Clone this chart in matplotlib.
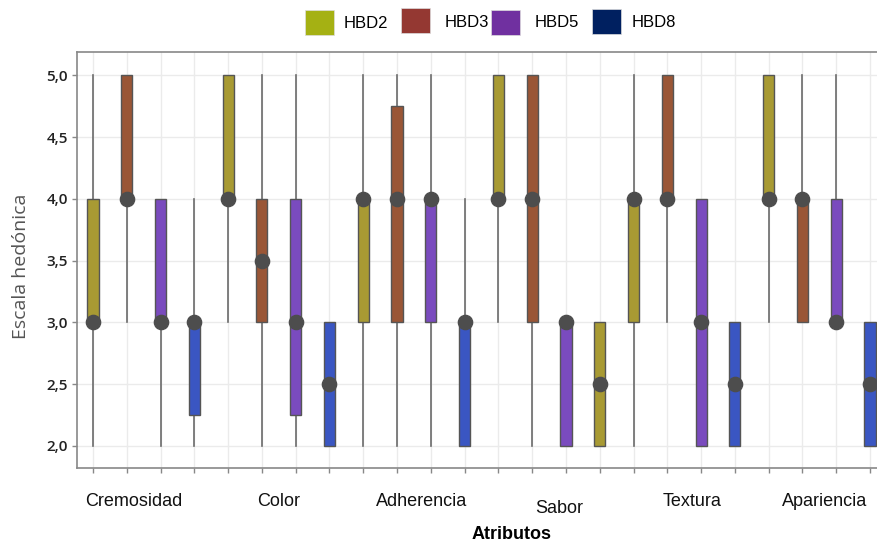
import matplotlib
matplotlib.use("Agg")
import matplotlib.pyplot as plt
from matplotlib.patches import Rectangle

# one entry per box, left to right (6 attributes x 4 formulations)
box_whislo = [2.0, 3.0, 2.0, 2.0,  3.0, 2.0, 2.0, 2.0,  2.0, 2.0, 2.0, 2.0,
              3.0, 2.0, 2.0, 2.0,  2.0, 3.0, 2.0, 2.0,  3.0, 3.0, 3.0, 2.0]
box_q1     = [3.0, 4.0, 3.0, 2.25, 4.0, 3.0, 2.25, 2.0, 3.0, 3.0, 3.0, 2.0,
              4.0, 3.0, 2.0, 2.0,  3.0, 4.0, 2.0, 2.0,  4.0, 3.0, 3.0, 2.0]
box_med    = [3.0, 4.0, 3.0, 3.0,  4.0, 3.5, 3.0, 2.5,  4.0, 4.0, 4.0, 3.0,
              4.0, 4.0, 3.0, 2.5,  4.0, 4.0, 3.0, 2.5,  4.0, 4.0, 3.0, 2.5]
box_q3     = [4.0, 5.0, 4.0, 3.0,  5.0, 4.0, 4.0, 3.0,  4.0, 4.75, 4.0, 3.0,
              5.0, 5.0, 3.0, 3.0,  4.0, 5.0, 4.0, 3.0,  5.0, 4.0, 4.0, 3.0]
box_whishi = [5.0, 5.0, 4.0, 4.0,  5.0, 5.0, 5.0, 3.0,  5.0, 5.0, 5.0, 4.0,
              5.0, 5.0, 3.0, 3.0,  5.0, 5.0, 4.0, 3.0,  5.0, 5.0, 5.0, 3.0]
box_color  = ["#A89A33", "#9A5636", "#7A4BBE", "#3A56C2",
              "#A89A33", "#9A5636", "#7A4BBE", "#3A56C2",
              "#A89A33", "#9A5636", "#7A4BBE", "#3A56C2",
              "#A89A33", "#9A5636", "#7A4BBE", "#A89A33",
              "#A89A33", "#9A5636", "#7A4BBE", "#3A56C2",
              "#A89A33", "#9A5636", "#7A4BBE", "#3A56C2"]

atributos = ["Cremosidad", "Color", "Adherencia", "Sabor", "Textura", "Apariencia"]
label_x = [1.20, 5.48, 9.72, 13.80, 17.73, 21.65]
label_y = [-0.091, -0.091, -0.091, -0.108, -0.091, -0.091]

series = ["HBD2", "HBD3", "HBD5", "HBD8"]
series_color = ["#A5B113", "#943832", "#7030A0", "#002060"]

y_ticks = [2.0, 2.5, 3.0, 3.5, 4.0, 4.5, 5.0]
y_ticklabels = ["2,0", "2,5", "3,0", "3,5", "4,0", "4,5", "5,0"]

fig = plt.figure(figsize=(8.78, 5.42), dpi=100)
ax = fig.add_axes([77 / 878, 1 - 468 / 542, 1 - 77 / 878, (468 - 52) / 542])

positions = list(range(len(box_med)))
stats = []
for i in positions:
    stats.append(dict(whislo=box_whislo[i], q1=box_q1[i], med=box_med[i],
                      q3=box_q3[i], whishi=box_whishi[i], fliers=[]))

bp = ax.bxp(stats, positions=positions, widths=0.33, patch_artist=True,
            showcaps=False, showfliers=False,
            boxprops=dict(edgecolor="#555555", linewidth=1.0),
            whiskerprops=dict(color="#6a6a6a", linewidth=1.2),
            medianprops=dict(linewidth=0))
for patch, c in zip(bp["boxes"], box_color):
    patch.set_facecolor(c)
    patch.set_zorder(3)
for w in bp["whiskers"]:
    w.set_zorder(2)

ax.scatter(positions, box_med, s=105, color="#4D4D4D", zorder=4)

ax.set_xlim(-0.474, 23.237)
ax.set_ylim(1.82, 5.19)
ax.set_xticks(positions)
ax.set_xticklabels([])
ax.set_yticks(y_ticks)
ax.set_yticklabels(y_ticklabels, fontfamily="Open Sans", fontsize=11,
                   fontweight="semibold", color="#222222")
ax.tick_params(axis="both", length=3.6, width=1, color="#888888", pad=3)

ax.grid(True, color="#EBEBEB", linewidth=1.0, zorder=0)
ax.set_axisbelow(True)
for side in ["left", "bottom", "top"]:
    ax.spines[side].set_color("#888888")
    ax.spines[side].set_linewidth(1.2)
ax.spines["right"].set_visible(False)

for name, lx, ly in zip(atributos, label_x, label_y):
    ax.text(lx, ly, name, transform=ax.get_xaxis_transform(), ha="center",
            va="baseline", fontsize=13, fontfamily="Liberation Sans", color="#111111")

fig.text(512 / 878, 1 - 539 / 542, "Atributos", ha="center", va="baseline",
         fontsize=13, fontweight="bold", fontfamily="Liberation Sans")
fig.text(21 / 878, 1 - 266 / 542, "Escala hedónica", rotation=90, ha="center",
         va="center", fontsize=14, fontfamily="Open Sans", color="#555555")

# legend drawn by hand to keep the uneven spacing of the original
leg_patch_x = [305, 401, 491, 592]
leg_patch_top = [10, 8, 10, 9]
leg_text_x = [344, 445, 535, 632]
leg_text_base = [28, 27, 27, 27]
for name, c, px, pt, tx, tb in zip(series, series_color, leg_patch_x,
                                   leg_patch_top, leg_text_x, leg_text_base):
    fig.add_artist(Rectangle((px / 878, 1 - (pt + 25) / 542), 29 / 878, 25 / 542,
                             transform=fig.transFigure, facecolor=c,
                             edgecolor="#dddddd", linewidth=0.5))
    fig.text(tx / 878, 1 - tb / 542, name, ha="left", va="baseline",
             fontsize=12, fontfamily="Liberation Sans")

fig.savefig("out.png", dpi=100)
